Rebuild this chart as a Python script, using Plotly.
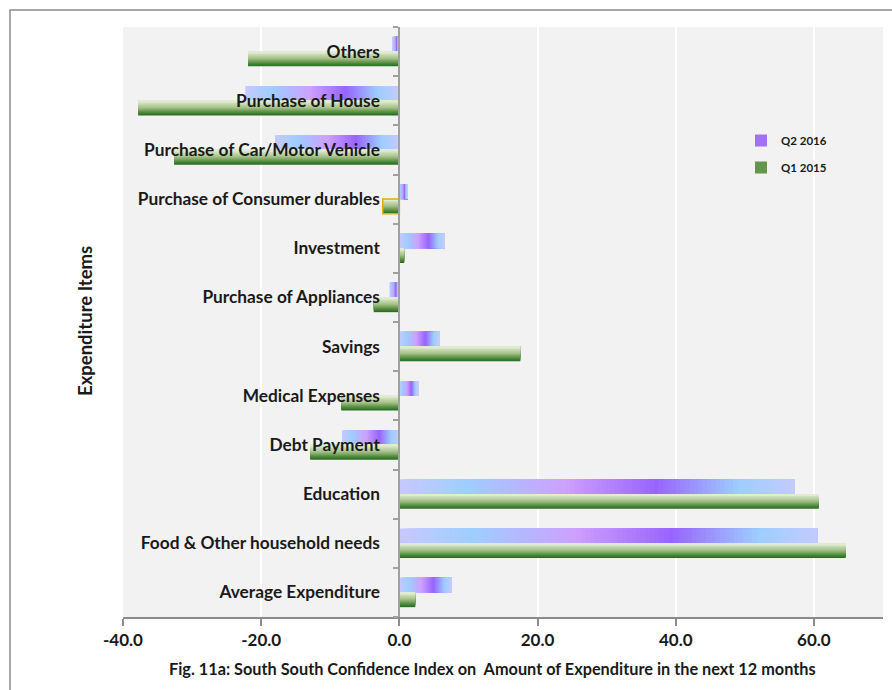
import plotly.graph_objects as go

# Expenditure items, bottom to top
categories = [
    "Average Expenditure",
    "Food & Other household needs",
    "Education",
    "Debt Payment",
    "Medical Expenses",
    "Savings",
    "Purchase of Appliances",
    "Investment",
    "Purchase of Consumer durables",
    "Purchase of Car/Motor Vehicle",
    "Purchase of House",
    "Others",
]
q2_2016 = [7.6, 60.5, 57.2, -8.3, 2.7, 5.8, -1.4, 6.5, 1.2, -18.0, -22.3, -1.0]
q1_2015 = [2.3, 64.6, 60.7, -12.9, -8.4, 17.5, -3.7, 0.7, -2.4, -32.6, -37.8, -21.9]
# outline colour used to flag a single Q1 2015 bar
q1_outline = ["rgba(0,0,0,0)"] * 8 + ["#e0b000"] + ["rgba(0,0,0,0)"] * 3

x_ticks = [-40, -20, 0, 20, 40, 60]
x_range = [-40, 70]

FONT = "Lato"

# colour ramps
q2_stops = [(0.0, (200, 200, 255)), (0.17, (158, 206, 255)), (0.42, (205, 160, 255)),
            (0.65, (152, 100, 255)), (0.86, (158, 206, 255)), (1.0, (196, 202, 255))]
q1_stops = [(0.0, (30, 108, 30)), (0.25, (92, 144, 68)), (0.55, (168, 195, 140)),
            (1.0, (228, 238, 214))]


def ramp(stops, t):
    for (t0, c0), (t1, c1) in zip(stops[:-1], stops[1:]):
        if t <= t1:
            f = 0 if t1 == t0 else (t - t0) / (t1 - t0)
            return "rgb(%d,%d,%d)" % tuple(round(a + (b - a) * f) for a, b in zip(c0, c1))
    return "rgb(%d,%d,%d)" % stops[-1][1]


half = 0.3  # thickness of each bar in category units
fig = go.Figure()

# Q2 2016: colour runs along the bar, drawn as overlapping segments left to right
M = 90
lefts = [min(0, v) for v in q2_2016]
spans = [abs(v) for v in q2_2016]
for j in range(M):
    f = j / M
    fig.add_trace(go.Bar(
        y=categories, orientation="h",
        base=[l + s * f for l, s in zip(lefts, spans)],
        x=[s * (1 - f) for s in spans],
        offset=0, width=half,
        marker=dict(color=ramp(q2_stops, (j + 0.5) / M), line=dict(width=0)),
        name="Q2 2016", legendgroup="q2",
        showlegend=(j == 54), hoverinfo="skip",
    ))

# Q1 2015: vertical shading, dark at the bottom edge, light at the top edge
N = 16
for k in range(N):
    f = k / N
    fig.add_trace(go.Bar(
        y=categories, x=q1_2015, orientation="h",
        offset=-half + half * f, width=half * (1 - f),
        marker=dict(color=ramp(q1_stops, (k + 0.5) / N), line=dict(width=0)),
        name="Q1 2015", legendgroup="q1",
        showlegend=(k == 4), hoverinfo="skip",
    ))

fig.add_trace(go.Bar(
    y=categories, x=q1_2015, orientation="h",
    offset=-half, width=half,
    marker=dict(color="rgba(0,0,0,0)", line=dict(color=q1_outline, width=1.5)),
    showlegend=False, hoverinfo="skip",
))

ML, MR, MT, MB = 123, 9, 27, 73
W, H = 892, 690
pw, ph = W - ML - MR, H - MT - MB


def px_x(px):
    return (px - ML) / pw


def px_y(py):
    return 1 - (py - MT) / ph


fig.update_layout(
    width=W, height=H,
    margin=dict(l=ML, r=MR, t=MT, b=MB),
    barmode="overlay",
    paper_bgcolor="white",
    plot_bgcolor="#f2f2f2",
    font=dict(family=FONT, color="#1a1a1a"),
    xaxis=dict(
        range=x_range, tickvals=x_ticks, ticktext=["%.1f" % v for v in x_ticks],
        showgrid=True, gridcolor="white", gridwidth=2,
        zeroline=False, showline=True, linecolor="#8c8c8c", linewidth=1.5,
        ticks="outside", ticklen=7, tickcolor="#8c8c8c", tickwidth=1.5,
        tickfont=dict(family=FONT, size=17, color="#1a1a1a", weight="bold"),
        domain=[0, 1],
    ),
    yaxis=dict(
        type="category", categoryorder="array", categoryarray=categories,
        anchor="free", position=(0 - x_range[0]) / (x_range[1] - x_range[0]),
        showline=True, linecolor="#a0a0a0", linewidth=2,
        showgrid=False, zeroline=False,
        ticks="outside", tickson="boundaries", ticklen=5, tickcolor="#a0a0a0", tickwidth=1.5,
        ticklabelstandoff=15,
        tickfont=dict(family=FONT, size=17.3, color="#1a1a1a", weight="bold"),
        range=[-0.5, len(categories) - 0.5],
    ),
    legend=dict(
        x=px_x(741), y=px_y(126), xanchor="left", yanchor="top",
        bgcolor="rgba(0,0,0,0)", tracegroupgap=8,
        font=dict(family=FONT, size=11.5, color="#1a1a1a", weight="bold"),
        itemwidth=30,
    ),
    shapes=[dict(
        type="rect", xref="paper", yref="paper",
        x0=px_x(10), x1=px_x(W + 20), y0=px_y(H + 20), y1=px_y(10),
        line=dict(color="#8c8c8c", width=1.5), fillcolor="rgba(0,0,0,0)", layer="below",
    )],
    annotations=[
        dict(text="Expenditure Items", textangle=-90, xref="paper", yref="paper",
             x=px_x(85), y=px_y(321), xanchor="center", yanchor="middle", showarrow=False,
             font=dict(family=FONT, size=18.5, color="#1a1a1a", weight="bold")),
        dict(text="Fig. 11a: South South Confidence Index on  Amount of Expenditure in the next 12 months",
             xref="paper", yref="paper", x=px_x(492), y=px_y(668),
             xanchor="center", yanchor="middle", showarrow=False,
             font=dict(family=FONT, size=16.3, color="#1a1a1a", weight="bold")),
    ],
)

fig.write_html("out.html")
